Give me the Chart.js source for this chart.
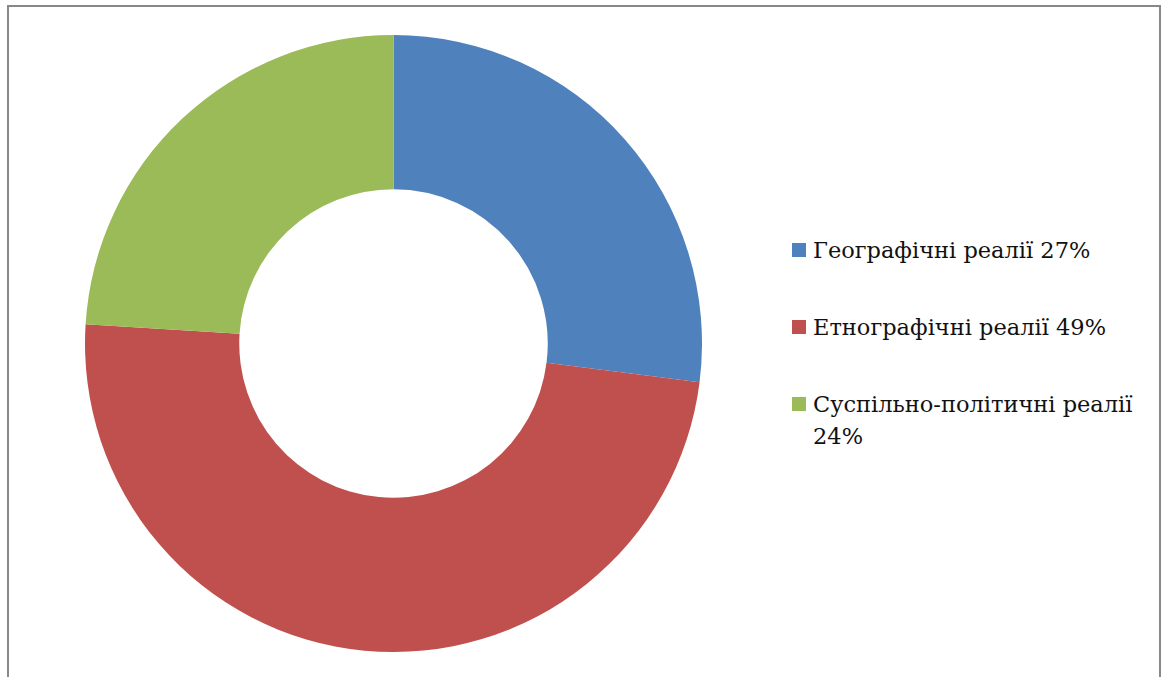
<!DOCTYPE html>
<html>
<head>
<meta charset="utf-8">
<script src="https://cdn.jsdelivr.net/npm/chart.js@4.4.1/dist/chart.umd.min.js"></script>
<style>
  html, body { margin: 0; padding: 0; background: #fff; overflow: hidden; }
  #frame { position: absolute; left: 7px; top: 5px; width: 1154px; height: 700px; border: 2px solid #888; box-sizing: border-box; }
  #pie-wrap { position: absolute; left: 85px; top: 35px; width: 617px; height: 617px; }
  #legend { position: absolute; left: 792px; top: 234px; width: 352px; font-family: "DejaVu Serif", serif; font-size: 22.5px; color: #111; }
  .item { position: relative; padding-left: 21px; line-height: 32px; margin-bottom: 45px; }
  .swatch { position: absolute; left: 0; top: 9px; width: 14px; height: 14px; }
</style>
</head>
<body>
<div id="frame"></div>
<div id="pie-wrap"><canvas id="pie"></canvas></div>
<div id="legend"></div>
<script>
// categories and shares (%)
var labels = ['Географічні реалії', 'Етнографічні реалії', 'Суспільно-політичні реалії'];
var values = [27, 49, 24];
var colors = ['#4F81BD', '#C0504D', '#9BBB59'];

new Chart(document.getElementById('pie'), {
  type: 'doughnut',
  data: {
    labels: labels,
    datasets: [{
      data: values,
      backgroundColor: colors,
      borderWidth: 0
    }]
  },
  options: {
    responsive: true,
    maintainAspectRatio: false,
    animation: false,
    cutout: '50%',
    layout: { padding: 0 },
    plugins: {
      legend: { display: false },
      tooltip: { enabled: false }
    }
  }
});

// legend on the right, label + percent
var legend = document.getElementById('legend');
labels.forEach(function(name, i) {
  var item = document.createElement('div');
  item.className = 'item';
  var sw = document.createElement('span');
  sw.className = 'swatch';
  sw.style.background = colors[i];
  item.appendChild(sw);
  item.appendChild(document.createTextNode(name + ' ' + values[i] + '%'));
  legend.appendChild(item);
});
</script>
</body>
</html>
